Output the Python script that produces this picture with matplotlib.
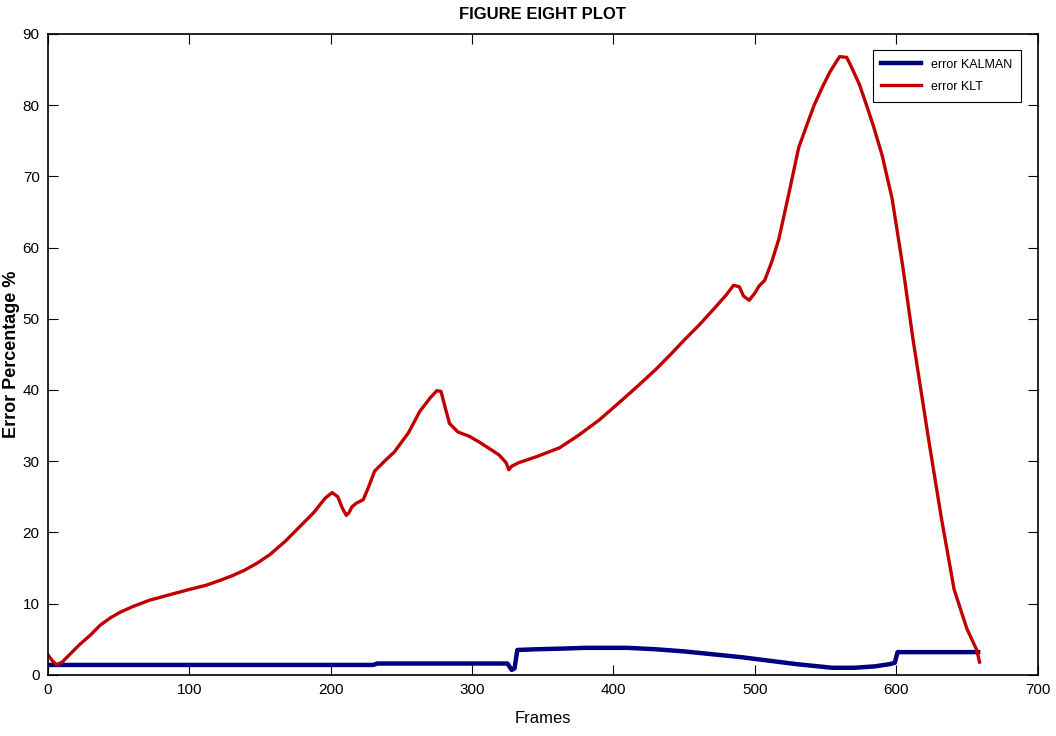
import matplotlib
matplotlib.use('Agg')
import matplotlib.pyplot as plt

plt.rcParams['font.family'] = ['Liberation Sans', 'DejaVu Sans']

# error KLT (red)
klt_frames = [0, 3, 6, 10, 16, 22, 30, 37, 44, 51, 60, 72, 85, 100, 112, 122, 130, 139,
              148, 157, 168, 178, 188, 196, 201, 205, 208, 211, 213, 215, 218, 223, 227,
              231, 238, 245, 255, 263, 270, 275, 278, 281, 284, 290, 298, 305, 312, 319,
              324, 326, 328, 333, 345, 362, 375, 390, 405, 418, 430, 440, 450, 461, 472,
              480, 485, 489, 492, 496, 500, 503, 507, 512, 517, 524, 531, 537, 542, 548,
              553, 558, 560, 565, 568, 574, 579, 584, 590, 597, 601, 605, 612, 623, 632,
              641, 650, 657, 659]
klt_error = [2.8, 2.0, 1.4, 1.8, 3.0, 4.2, 5.6, 7.0, 8.0, 8.8, 9.6, 10.5, 11.2, 12.0, 12.6,
             13.3, 13.9, 14.7, 15.7, 16.9, 18.8, 20.8, 22.8, 24.8, 25.6, 25.0, 23.5, 22.4,
             22.8, 23.6, 24.1, 24.6, 26.5, 28.6, 30.0, 31.3, 34.0, 37.0, 38.8, 39.9, 39.8,
             37.5, 35.3, 34.1, 33.5, 32.7, 31.8, 30.9, 29.8, 28.8, 29.3, 29.8, 30.6, 31.9,
             33.6, 35.8, 38.4, 40.7, 42.9, 44.9, 47.0, 49.2, 51.6, 53.4, 54.7, 54.5, 53.2,
             52.6, 53.6, 54.6, 55.4, 58.0, 61.2, 67.5, 74.0, 77.3, 80.0, 82.6, 84.6, 86.2,
             86.8, 86.7, 85.5, 82.9, 80.0, 77.0, 73.0, 67.0, 62.0, 56.9, 47.0, 33.0, 22.0,
             12.0, 6.5, 3.5, 1.8]

# error KALMAN (blue)
kalman_frames = [0, 230, 233, 325, 328, 330, 332, 345, 365, 380, 400, 410, 430, 450, 470,
                 490, 510, 530, 545, 555, 570, 585, 595, 599, 601, 620, 640, 658]
kalman_error = [1.4, 1.4, 1.6, 1.6, 0.7, 0.9, 3.5, 3.6, 3.7, 3.8, 3.8, 3.8, 3.6, 3.3, 2.9,
                2.5, 2.0, 1.5, 1.2, 1.0, 1.0, 1.2, 1.5, 1.7, 3.2, 3.2, 3.2, 3.2]

fig = plt.figure(figsize=(10.56, 7.36), dpi=100)
ax = fig.add_axes([0.0455, 0.083, 0.937, 0.871])

ax.plot(kalman_frames, kalman_error, color='#000080', lw=3.2, label='error KALMAN')
ax.plot(klt_frames, klt_error, color='#c00000', lw=2.4, label='error KLT')

ax.set_xlim(0, 700)
ax.set_ylim(0, 90)
ax.set_xticks(range(0, 701, 100))
ax.set_yticks(range(0, 91, 10))
ax.tick_params(direction='in', top=True, right=True, length=7, width=0.8,
               labelsize=11, pad=6)
for s in ax.spines.values():
    s.set_linewidth(1.2)

ax.set_title('FIGURE EIGHT PLOT', fontsize=12, fontweight='bold', pad=11)
ax.set_xlabel('Frames', fontsize=12, labelpad=10)
ax.set_ylabel('Error Percentage %', fontsize=13, fontweight='bold', labelpad=2)

leg = ax.legend(loc='upper right', fontsize=9, fancybox=False, edgecolor='black',
                handlelength=3.2, borderaxespad=1.3, framealpha=1, labelspacing=0.8,
                borderpad=0.7)
leg.get_frame().set_linewidth(0.8)

fig.savefig('out.png', dpi=100)
